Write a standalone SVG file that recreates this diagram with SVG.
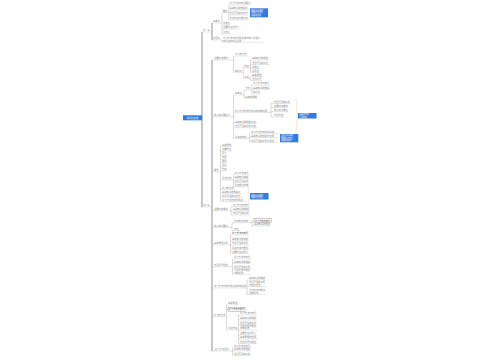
<svg xmlns="http://www.w3.org/2000/svg" width="500" height="360" viewBox="0 0 500 360">
<style>
.t{font-family:"Noto Sans CJK SC","Noto Sans",sans-serif;font-size:2.3px;fill:#8a8a8a}
.d{fill:#444}
.u{stroke:#c4c4c4;stroke-width:.4}
.c{fill:none;stroke:#b0b0b0;stroke-width:.45}
.tr{fill:none;stroke:#777;stroke-width:.8}
.bx{fill:#2f7be3}
.bt{font-family:"Noto Sans CJK SC","Noto Sans",sans-serif;font-size:2px;fill:#fff}
.wb{fill:#fff;stroke:#777;stroke-width:.35}
.or{fill:none;stroke:#f2c8a0;stroke-width:.5}
</style>
<rect width="500" height="360" fill="#fff"/>
<g id="connectors">
<path class="tr" d="M202,32V207M202,117.5H202.5M212,23V40M212,60V351"/>
<path class="c" d="M202,32H202.5M210.7,32H212M212,23H212.5M212,40H212.5
M220.7,23H222M222,12.7V33.7M222,12.7H222.5M222,25H222.5M222,29H222.5M222,33.7H222.5
M228.3,12.7H228.8M228.8,5V20M228.8,5H229M228.8,10H229M228.8,15H229M228.8,20H229
M220.7,40H221.8V42.2H222.5
M202,207H202.5M210.7,207H212
M212,60H213.5M212,116.7H213.5M212,171.7H213.5M212,210.7H213.5M212,227.3H213.5M212,245H213.5M212,266.7H213.5M212,288H213.5M212,316.7H213M212,351H214.5
M231.3,60H233.5M233.5,56V72.3M233.5,56H234.5M233.5,72.3H234.5
M242.7,72.3H243.3M243.3,67.3V78.3M243.3,67.3H243.8M243.3,78.3H243.8
M249.6,67.3H250.5M250.5,60V72.3M250.5,60H251.5M250.5,64.5H251.5M250.5,68.5H251.5M250.5,72.3H251.5
M249.6,78.3H250.5M250.5,76.5V80.7M250.5,76.5H251.5M250.5,80.7H251.5
M231.3,116.7H233.5M233.5,95V138.3M233.5,95H234.5M233.5,112.3H234.5M233.5,123.3H234.5M233.5,127.7H234.5M233.5,138.3H234.5
M242.7,95H244M244,90V98.3M244,90H244.8M244,98.3H244.8
M250.6,90H251.8M251.8,85V94M251.8,85H252.5M251.8,89.3H252.5M251.8,94H252.5
M266.7,112.3H271M271,103.3V117M271,103.3H273.5M271,107.3H273.5M271,111.7H273.5M271,117H273.5
M247.5,138.3H249.5M249.5,133.3V142.3M249.5,133.3H250.5M249.5,137.7H250.5M249.5,142.3H250.5
M219.3,171.7H220.5M220.5,146.7V201.7M220.5,146.7H221.5M220.5,151H221.5M220.5,155H221.5M220.5,159H221.5M220.5,162.7H221.5M220.5,166.7H221.5M220.5,170.7H221.5M220.5,180H221.5M220.5,189.3H221.5M220.5,193.3H221.5M220.5,197.3H221.5M220.5,201.7H221.5
M232.1,180H233.5M233.5,174.3V186.7M233.5,174.3H234M233.5,178.3H234M233.5,182.7H234M233.5,186.7H234
M228.9,210.7H231M231,206.7V215M231,206.7H232.5M231,210.7H232.5M231,215H232.5
M228.9,227.3H232M232,222.7V230.7M232,222.7H233.5M232,230.7H233.5
M248.9,222.7H252.3M252.3,220.7V226M252.3,220.7H254M252.3,226H253.5
M228.9,245H230.5M230.5,235V253.3M230.5,235H231.5M230.5,240.7H231.5M230.5,245H231.5M230.5,249.3H231.5M230.5,253.3H231.5
M228.9,266.7H232.5M232.5,259V274.3M232.5,259H233.5M232.5,263.3H233.5M232.5,268.3H233.5M232.5,274.3H233.5
M245.7,288H247M247,280V294.5M247,280H248.5M247,286.5H248.5M247,294.5H248.5
M225.5,316.7H226.5M226.5,305V330M226.5,305H227.5M226.5,309.5H228M226.5,330H227.5
M238.1,330H238.5M238.5,315V343.3M238.5,315H239.5M238.5,320H239.5M238.5,324.3H239.5M238.5,330H239.5M238.5,335H239.5M238.5,339H239.5M238.5,343.3H239.5
M229.9,351H232.5M232.5,347.3V355.3M232.5,347.3H233.5M232.5,351H233.5M232.5,355.3H233.5"/>
<path class="or" d="M296,98Q298.5,116 296,134"/>
<path class="or" d="M248.3,188Q250,195 248.3,202"/>
</g>
<g id="root"><rect class="bx" x="183" y="115.3" width="19" height="5"/><text class="bt" x="192.5" y="118.6" text-anchor="middle" style="font-size:2.3px">知识点总结</text></g>
<g id="n1"><text class="t" x="203" y="31.4">第一章</text><line class="u" x1="202.5" y1="32" x2="210.7" y2="32"/></g>
<g id="n1a"><text class="t" x="213" y="22.4">基本点</text><line class="u" x1="212.5" y1="23" x2="220.7" y2="23"/></g>
<g id="n1a1"><text class="t" x="223" y="12.1">要点</text><line class="u" x1="222.5" y1="12.7" x2="228.3" y2="12.7"/></g>
<g id="n1a1a"><text class="t" x="229.5" y="4.4">学习方法与知识要点</text><line class="u" x1="229" y1="5" x2="248.7" y2="5"/></g>
<g id="n1a1b"><text class="t" x="229.5" y="9.4">基础知识的理解分</text><line class="u" x1="229" y1="10" x2="248.7" y2="10"/></g>
<g id="n1a1c"><text class="t" x="229.5" y="14.4">常见题型的分析方</text><line class="u" x1="229" y1="15" x2="248.7" y2="15"/></g>
<g id="n1a1d"><text class="t" x="229.5" y="19.4">重点内容与难点归</text><line class="u" x1="229" y1="20" x2="248.7" y2="20"/></g>
<g id="box1"><rect class="bx" x="250" y="8.3" width="18" height="9"/><text class="bt" x="251" y="10.8">注意事项说明</text><text class="bt" x="251" y="13.3">需要重点记忆</text><text class="bt" x="251" y="15.8">理解并应用</text></g>
<g id="n1a2"><text class="t" x="223" y="24.4">重难点</text><line class="u" x1="222.5" y1="25" x2="230.7" y2="25"/></g>
<g id="n1a3"><text class="t" x="223" y="28.4">主要特征与意义</text><line class="u" x1="222.5" y1="29" x2="240.3" y2="29"/></g>
<g id="n1a4"><text class="t" x="223" y="33.1">小结论</text><line class="u" x1="222.5" y1="33.7" x2="230.7" y2="33.7"/></g>
<g id="n1b"><text class="t" x="213" y="39.4">注意点</text><line class="u" x1="212.5" y1="40" x2="220.7" y2="40"/></g>
<g id="n1b1"><text class="t" x="223" y="38.8">学习方法与技巧的总结归纳以及相关</text><text class="t" x="223" y="41.6">知识点的综合运用</text><line class="u" x1="222.5" y1="42.2" x2="263" y2="42.2"/></g>
<g id="n2"><text class="t" x="203" y="206.4">第二章</text><line class="u" x1="202.5" y1="207" x2="210.7" y2="207"/></g>
<g id="B1"><text class="t" x="214" y="59.4">主要内容概述一</text><line class="u" x1="213.5" y1="60" x2="231.3" y2="60"/></g>
<g id="B1a"><text class="t" x="235" y="55.4">学习的方法</text><line class="u" x1="234.5" y1="56" x2="247.5" y2="56"/></g>
<g id="B1b"><text class="t" x="235" y="71.7">知识点</text><line class="u" x1="234.5" y1="72.3" x2="242.7" y2="72.3"/></g>
<g id="B1b1"><text class="t" x="244.3" y="66.7">特点</text><line class="u" x1="243.8" y1="67.3" x2="249.6" y2="67.3"/></g>
<g id="B1b2"><text class="t" x="244.3" y="77.7">分类</text><line class="u" x1="243.8" y1="78.3" x2="249.6" y2="78.3"/></g>
<g id="B1c1"><text class="t" x="252" y="59.4">基础知识的理解</text><line class="u" x1="251.5" y1="60" x2="269.3" y2="60"/></g>
<g id="B1c2"><text class="t" x="252" y="63.9">常见题型的分析</text><line class="u" x1="251.5" y1="64.5" x2="269.3" y2="64.5"/></g>
<g id="B1c3"><text class="t" x="252" y="67.9">重难点</text><line class="u" x1="251.5" y1="68.5" x2="259.7" y2="68.5"/></g>
<g id="B1c4"><text class="t" x="252" y="71.7">注意点</text><line class="u" x1="251.5" y1="72.3" x2="259.7" y2="72.3"/></g>
<g id="B1c5"><text class="t" x="252" y="75.9">基本原理</text><line class="u" x1="251.5" y1="76.5" x2="262.1" y2="76.5"/></g>
<g id="B1c6"><text class="t" x="252" y="80.1">常见问题</text><line class="u" x1="251.5" y1="80.7" x2="262.1" y2="80.7"/></g>
<g id="B2"><text class="t" x="214" y="116.1">核心知识要点二</text><line class="u" x1="213.5" y1="116.7" x2="231.3" y2="116.7"/></g>
<g id="B2a"><text class="t" x="235" y="94.4">基本点</text><line class="u" x1="234.5" y1="95" x2="242.7" y2="95"/></g>
<g id="B2a1"><text class="t" x="245.3" y="89.4">方法</text><line class="u" x1="244.8" y1="90" x2="250.6" y2="90"/></g>
<g id="B2a1a"><text class="t" x="253" y="84.4">学习方法与技巧</text><line class="u" x1="252.5" y1="85" x2="270.3" y2="85"/></g>
<g id="B2a1b"><text class="t" x="253" y="88.7">基础知识的理解</text><line class="u" x1="252.5" y1="89.3" x2="270.3" y2="89.3"/></g>
<g id="B2a1c"><text class="t" x="253" y="93.4">知识点</text><line class="u" x1="252.5" y1="94" x2="260.7" y2="94"/></g>
<g id="B2a2"><text class="t" x="245.3" y="97.7">基本的原理</text><line class="u" x1="244.8" y1="98.3" x2="257.8" y2="98.3"/></g>
<g id="B2b"><text class="t" x="235" y="111.7">学习方法与技巧的总结归纳运用</text><line class="u" x1="234.5" y1="112.3" x2="266.7" y2="112.3"/></g>
<g id="B2b1"><text class="t" x="274" y="102.7">常见题型的分析</text><line class="u" x1="273.5" y1="103.3" x2="291.3" y2="103.3"/></g>
<g id="B2b2"><text class="t" x="274" y="106.7">主要内容概述</text><line class="u" x1="273.5" y1="107.3" x2="288.9" y2="107.3"/></g>
<g id="B2b3"><text class="t" x="274" y="111.1">核心知识要点</text><line class="u" x1="273.5" y1="111.7" x2="288.9" y2="111.7"/></g>
<g id="B2b4"><text class="t" x="274" y="116.4">重点内容</text><line class="u" x1="273.5" y1="117" x2="284.1" y2="117"/></g>
<g id="box2"><rect class="bx" x="298" y="113" width="18.5" height="5.5"/><text class="bt" x="299" y="115.3">理解并掌握</text><text class="bt" x="299" y="117.6">灵活应用</text></g>
<g id="B2c"><text class="t" x="235" y="122.7">基础知识的理解与应</text><line class="u" x1="234.5" y1="123.3" x2="257.6" y2="123.3"/></g>
<g id="B2d"><text class="t" x="235" y="127.1">常见题型的分析与解</text><line class="u" x1="234.5" y1="127.7" x2="257.6" y2="127.7"/></g>
<g id="B2e"><text class="t" x="235" y="137.7">重点和难点</text><line class="u" x1="234.5" y1="138.3" x2="247.5" y2="138.3"/></g>
<g id="B2e1"><text class="t" x="251" y="132.7">学习方法与技巧的总结</text><line class="u" x1="250.5" y1="133.3" x2="277.9" y2="133.3"/></g>
<g id="B2e2"><text class="t" x="251" y="137.1">基础知识的理解与应用</text><line class="u" x1="250.5" y1="137.7" x2="277.9" y2="137.7"/></g>
<g id="B2e3"><text class="t" x="251" y="141.7">常见题型的分析与解答</text><line class="u" x1="250.5" y1="142.3" x2="277.9" y2="142.3"/></g>
<g id="box3"><rect class="bx" x="280" y="134" width="18.3" height="8.3"/><text class="bt" x="281" y="136.4">注意事项说明</text><text class="bt" x="281" y="138.6">需要重点记忆</text><text class="bt" x="281" y="140.8">理解并应用</text></g>
<g id="B3"><text class="t" x="214" y="171.1">概念</text><line class="u" x1="213.5" y1="171.7" x2="219.3" y2="171.7"/></g>
<g id="B3a"><text class="t" x="222" y="146.1">基本原理</text><line class="u" x1="221.5" y1="146.7" x2="232.1" y2="146.7"/></g>
<g id="B3b"><text class="t" x="222" y="150.4">主要特征</text><line class="u" x1="221.5" y1="151" x2="232.1" y2="151"/></g>
<g id="B3c"><text class="t" x="222" y="154.4">意义</text><line class="u" x1="221.5" y1="155" x2="227.3" y2="155"/></g>
<g id="B3d"><text class="t" x="222" y="158.4">作用</text><line class="u" x1="221.5" y1="159" x2="227.3" y2="159"/></g>
<g id="B3e"><text class="t" x="222" y="162.1">原则</text><line class="u" x1="221.5" y1="162.7" x2="227.3" y2="162.7"/></g>
<g id="B3f"><text class="t" x="222" y="166.1">目标</text><line class="u" x1="221.5" y1="166.7" x2="227.3" y2="166.7"/></g>
<g id="B3g"><text class="t" x="222" y="170.1">内容</text><line class="u" x1="221.5" y1="170.7" x2="227.3" y2="170.7"/></g>
<g id="B3n"><text class="t" x="222" y="179.4">重点内容</text><line class="u" x1="221.5" y1="180" x2="232.1" y2="180"/></g>
<g id="B3n1"><text class="t" x="234.5" y="173.7">学习方法技巧</text><line class="u" x1="234" y1="174.3" x2="249.4" y2="174.3"/></g>
<g id="B3n2"><text class="t" x="234.5" y="177.7">基础知识理解</text><line class="u" x1="234" y1="178.3" x2="249.4" y2="178.3"/></g>
<g id="B3n3"><text class="t" x="234.5" y="182.1">常见题型分析</text><line class="u" x1="234" y1="182.7" x2="249.4" y2="182.7"/></g>
<g id="B3n4"><text class="t" x="234.5" y="186.1">重点难点归纳</text><line class="u" x1="234" y1="186.7" x2="249.4" y2="186.7"/></g>
<g id="B3h"><text class="t" x="222" y="188.7">学习的方法</text><line class="u" x1="221.5" y1="189.3" x2="234.5" y2="189.3"/></g>
<g id="B3i"><text class="t" x="222" y="192.7">基础知识的理解分</text><line class="u" x1="221.5" y1="193.3" x2="241.7" y2="193.3"/></g>
<g id="B3j"><text class="t" x="222" y="196.7">常见题型的分析方</text><line class="u" x1="221.5" y1="197.3" x2="241.7" y2="197.3"/></g>
<g id="B3k"><text class="t" x="222" y="201.1">学习方法与技巧的总</text><line class="u" x1="221.5" y1="201.7" x2="246.5" y2="201.7"/></g>
<g id="box4"><rect class="bx" x="250" y="193" width="18.5" height="6.5"/><text class="bt" x="251" y="195.7">注意事项说明</text><text class="bt" x="251" y="198.2">需要重点记忆</text></g>
<g id="B4"><text class="t" x="214" y="210.1">主要内容概述</text><line class="u" x1="213.5" y1="210.7" x2="228.9" y2="210.7"/></g>
<g id="B4a"><text class="t" x="233" y="206.1">学习方法与技巧</text><line class="u" x1="232.5" y1="206.7" x2="250.3" y2="206.7"/></g>
<g id="B4b"><text class="t" x="233" y="210.1">基础知识的理解</text><line class="u" x1="232.5" y1="210.7" x2="250.3" y2="210.7"/></g>
<g id="B4c"><text class="t" x="233" y="214.4">常见题型的分析</text><line class="u" x1="232.5" y1="215" x2="250.3" y2="215"/></g>
<g id="B5"><text class="t" x="214" y="226.7">核心知识要点</text><line class="u" x1="213.5" y1="227.3" x2="228.9" y2="227.3"/></g>
<g id="B5a"><text class="t" x="234" y="222.1">重点难点归纳</text><line class="u" x1="233.5" y1="222.7" x2="248.9" y2="222.7"/></g>
<g id="box5"><rect class="wb" x="254" y="218.8" width="17.5" height="3.6"/><text class="t d" x="254.8" y="221.5" style="font-size:2.2px">学习方法与技巧</text></g>
<g id="B5a2"><text class="t" x="254" y="225.4">基础知识的理解</text><line class="u" x1="253.5" y1="226" x2="271.3" y2="226"/></g>
<g id="B5b"><text class="t" x="234" y="230.1">特点</text><line class="u" x1="233.5" y1="230.7" x2="239.3" y2="230.7"/></g>
<g id="B6"><text class="t" x="214" y="244.4">基本原理分析</text><line class="u" x1="213.5" y1="245" x2="228.9" y2="245"/></g>
<g id="B6a"><text class="t d" x="232" y="234.4">学习方法与技巧</text><line class="u" x1="231.5" y1="235" x2="249.3" y2="235"/></g>
<g id="B6b"><text class="t" x="232" y="240.1">基础知识的理解</text><line class="u" x1="231.5" y1="240.7" x2="249.3" y2="240.7"/></g>
<g id="B6c"><text class="t" x="232" y="244.4">常见题型的分析</text><line class="u" x1="231.5" y1="245" x2="249.3" y2="245"/></g>
<g id="B6d"><text class="t" x="232" y="248.7">重点内容与难点</text><line class="u" x1="231.5" y1="249.3" x2="249.3" y2="249.3"/></g>
<g id="B6e"><text class="t" x="232" y="252.7">主要特征与意义</text><line class="u" x1="231.5" y1="253.3" x2="249.3" y2="253.3"/></g>
<g id="B7"><text class="t" x="214" y="266.1">常见问题解答</text><line class="u" x1="213.5" y1="266.7" x2="228.9" y2="266.7"/></g>
<g id="B7a"><text class="t" x="234" y="258.4">学习方法与技巧</text><line class="u" x1="233.5" y1="259" x2="251.3" y2="259"/></g>
<g id="B7b"><text class="t" x="234" y="262.7">基础知识的理解</text><line class="u" x1="233.5" y1="263.3" x2="251.3" y2="263.3"/></g>
<g id="B7c"><text class="t" x="234" y="267.7">常见题型的分析</text><line class="u" x1="233.5" y1="268.3" x2="251.3" y2="268.3"/></g>
<g id="B7d"><text class="t" x="234" y="271.1">重点内容与难点</text><text class="t" x="234" y="273.7">归纳总结</text><line class="u" x1="233.5" y1="274.3" x2="251.3" y2="274.3"/></g>
<g id="B8"><text class="t" x="214" y="287.4">学习方法与技巧的总结归纳运用</text><line class="u" x1="213.5" y1="288" x2="245.7" y2="288"/></g>
<g id="B8a"><text class="t" x="249" y="279.4">基础知识的理解</text><line class="u" x1="248.5" y1="280" x2="266.3" y2="280"/></g>
<g id="B8b"><text class="t" x="249" y="283.3">常见题型的分析</text><text class="t" x="249" y="285.9">与解答方法</text><line class="u" x1="248.5" y1="286.5" x2="266.3" y2="286.5"/></g>
<g id="B8c"><text class="t" x="249" y="291.3">重点内容与难点</text><text class="t" x="249" y="293.9">归纳总结</text><line class="u" x1="248.5" y1="294.5" x2="266.3" y2="294.5"/></g>
<g id="B9"><text class="t" x="213.5" y="316.1">学习的方法</text><line class="u" x1="213" y1="316.7" x2="225.5" y2="316.7"/></g>
<g id="B9a"><text class="t" x="228" y="304.4">基本原理</text><line class="u" x1="227.5" y1="305" x2="238.1" y2="305"/></g>
<g id="box6"><rect class="wb" x="228" y="307.8" width="17" height="3.5"/><text class="t d" x="228.8" y="310.4" style="font-size:2.2px">学习方法与技巧</text></g>
<g id="B9c"><text class="t" x="228" y="329.4">重点内容</text><line class="u" x1="227.5" y1="330" x2="238.1" y2="330"/></g>
<g id="B9c1"><text class="t" x="240" y="314.4">学习方法与技巧</text><line class="u" x1="239.5" y1="315" x2="257.3" y2="315"/></g>
<g id="B9c2"><text class="t" x="240" y="319.4">基础知识的理解</text><line class="u" x1="239.5" y1="320" x2="257.3" y2="320"/></g>
<g id="B9c3"><text class="t" x="240" y="323.7">常见题型的分析</text><line class="u" x1="239.5" y1="324.3" x2="257.3" y2="324.3"/></g>
<g id="B9c4"><text class="t" x="240" y="326.8">重点内容与难点</text><text class="t" x="240" y="329.4">归纳总结</text><line class="u" x1="239.5" y1="330" x2="257.3" y2="330"/></g>
<g id="B9c5"><text class="t" x="240" y="334.4">主要特征与意义</text><line class="u" x1="239.5" y1="335" x2="257.3" y2="335"/></g>
<g id="B9c6"><text class="t" x="240" y="338.4">基本原理的应用</text><line class="u" x1="239.5" y1="339" x2="257.3" y2="339"/></g>
<g id="B9c7"><text class="t" x="240" y="342.7">常见问题与解答</text><line class="u" x1="239.5" y1="343.3" x2="257.3" y2="343.3"/></g>
<g id="B10"><text class="t" x="215" y="350.4">复习计划目标</text><line class="u" x1="214.5" y1="351" x2="229.9" y2="351"/></g>
<g id="B10a"><text class="t" x="234" y="346.7">学习方法与技巧</text><line class="u" x1="233.5" y1="347.3" x2="251.3" y2="347.3"/></g>
<g id="B10b"><text class="t" x="234" y="350.4">基础知识的理解</text><line class="u" x1="233.5" y1="351" x2="251.3" y2="351"/></g>
<g id="B10c"><text class="t" x="234" y="354.7">常见题型的分析</text><line class="u" x1="233.5" y1="355.3" x2="251.3" y2="355.3"/></g>
</svg>
